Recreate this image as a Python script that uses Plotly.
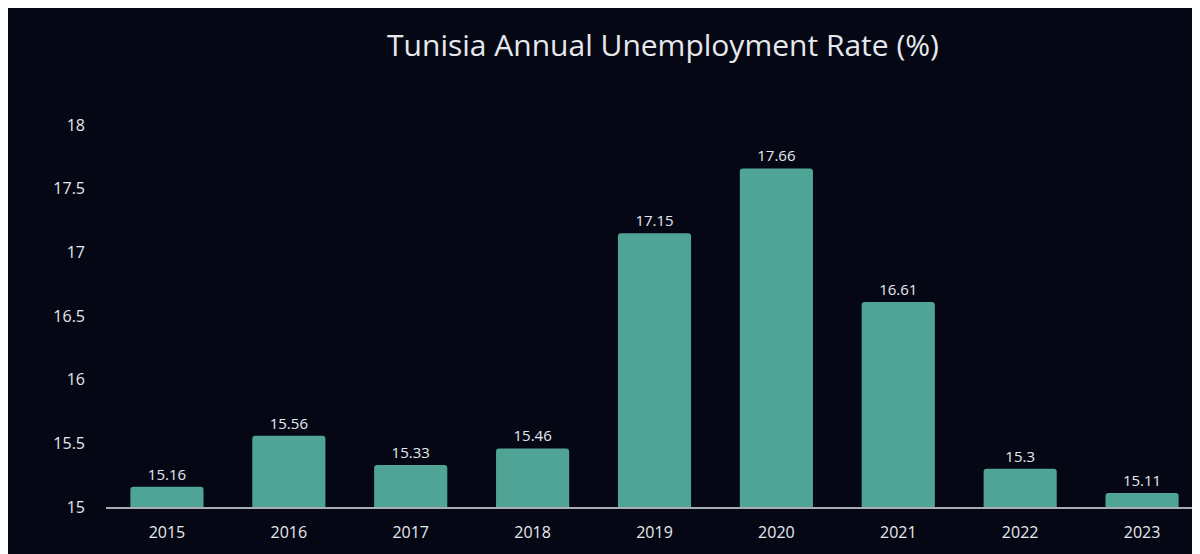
import plotly.graph_objects as go

years = ["2015", "2016", "2017", "2018", "2019", "2020", "2021", "2022", "2023"]
rates = [15.16, 15.56, 15.33, 15.46, 17.15, 17.66, 16.61, 15.3, 15.11]
labels = ["15.16", "15.56", "15.33", "15.46", "17.15", "17.66", "16.61", "15.3", "15.11"]
y_ticks = [15, 15.5, 16, 16.5, 17, 17.5, 18]
y_tick_text = ["15", "15.5", "16", "16.5", "17", "17.5", "18"]

BG = "#050814"
BAR = "#50a495"
TXT = "#e6e8ee"
FONT = "Open Sans"

W, H = 1200, 554
ml, mr, mt, mb = 98, 5, 79, 55

fig = go.Figure(go.Bar(
    x=years, y=rates, base=0,
    marker=dict(color=BAR, line=dict(width=0), cornerradius=3),
    text=labels, textposition="outside", cliponaxis=False,
    textfont=dict(color=TXT, size=15, family=FONT),
    hoverinfo="x+y",
))

fig.update_layout(
    width=W, height=H,
    margin=dict(l=ml, r=mr, t=mt, b=mb),
    paper_bgcolor=BG, plot_bgcolor=BG,
    bargap=0.4,
    showlegend=False,
    title=dict(text="Tunisia Annual Unemployment Rate (%)", x=655 / W, xanchor="center",
               y=1 - 37 / H, yanchor="middle",
               font=dict(size=30, color=TXT, family=FONT)),
    xaxis=dict(showgrid=False, showline=True, linecolor="#a8acb4", linewidth=2,
               ticks="", ticklabelstandoff=10,
               tickfont=dict(size=16, color=TXT, family=FONT), zeroline=False),
    yaxis=dict(range=[15, 18.3], tickvals=y_ticks, ticktext=y_tick_text,
               showgrid=False, zeroline=False, showline=False, ticks="",
               ticklabelstandoff=20,
               tickfont=dict(size=16, color=TXT, family=FONT)),
)

fig.write_html("out.html")
